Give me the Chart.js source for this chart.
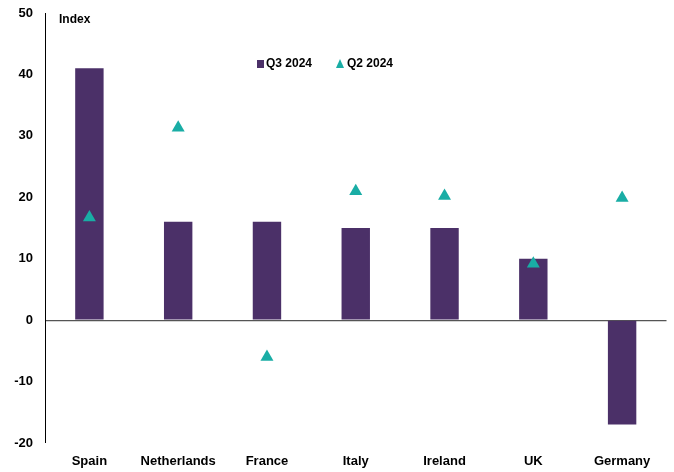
<!DOCTYPE html>
<html>
<head>
<meta charset="utf-8">
<script src="https://cdn.jsdelivr.net/npm/chart.js@4.4.1/dist/chart.umd.min.js"></script>
<style>
html,body{margin:0;padding:0;background:#fff;}
#wrap{width:674px;height:472px;position:relative;}
</style>
</head>
<body>
<div id="wrap"><canvas id="c" width="674" height="472"></canvas></div>
<script>
const categories = ["Spain","Netherlands","France","Italy","Ireland","UK","Germany"];
const q3_2024 = [41, 16, 16, 15, 15, 10, -17];
const q2_2024 = [16.7, 31.3, -6.0, 21.0, 20.2, 9.2, 19.9];
const yTicks = [50, 40, 30, 20, 10, 0, -10, -20];

const BAR = "#4B3068";
const TRI = "#19ADA5";
const FONT = "'Liberation Sans', Arial, sans-serif";

const overlay = {
  id: 'overlay',
  afterDraw(chart) {
    const ctx = chart.ctx;
    const area = chart.chartArea;
    ctx.save();
    ctx.fillStyle = '#000';
    ctx.font = "bold 12px " + FONT;
    ctx.textBaseline = 'middle';
    ctx.textAlign = 'left';
    ctx.fillText("Index", area.left + 14, 20);
    // legend
    const ly = 64;
    ctx.fillStyle = BAR;
    ctx.fillRect(257, ly - 4, 7, 8);
    ctx.fillStyle = '#000';
    ctx.fillText("Q3 2024", 266, ly);
    ctx.fillStyle = TRI;
    ctx.beginPath();
    ctx.moveTo(340, ly - 5);
    ctx.lineTo(344, ly + 4);
    ctx.lineTo(336, ly + 4);
    ctx.closePath();
    ctx.fill();
    ctx.fillStyle = '#000';
    ctx.fillText("Q2 2024", 347, ly);
    ctx.restore();
  }
};

new Chart(document.getElementById('c'), {
  type: 'bar',
  data: {
    labels: categories,
    datasets: [
      {
        type: 'line',
        label: 'Q2 2024',
        data: q2_2024,
        showLine: false,
        pointStyle: 'triangle',
        pointRadius: 7.5,
        pointHoverRadius: 7.5,
        backgroundColor: TRI,
        borderColor: TRI,
        borderWidth: 0,
        order: 0
      },
      {
        type: 'bar',
        label: 'Q3 2024',
        data: q3_2024,
        backgroundColor: BAR,
        borderWidth: 0,
        barPercentage: 0.32,
        categoryPercentage: 1.0,
        order: 1
      }
    ]
  },
  options: {
    responsive: false,
    animation: false,
    devicePixelRatio: 1,
    layout: { padding: { top: 13, right: 6, bottom: 0, left: 0 } },
    plugins: { legend: { display: false }, tooltip: { enabled: false } },
    scales: {
      x: {
        afterFit(scale) { scale.height = 29; },
        grid: { display: false, drawTicks: false },
        border: { display: false },
        ticks: { color: '#000', font: { family: FONT, weight: 'bold', size: 13 }, padding: 11, maxRotation: 0 }
      },
      y: {
        min: -20, max: 50,
        afterFit(scale) { scale.width = 45; scale.paddingTop = 0; scale.paddingBottom = 0; },
        afterBuildTicks(scale) { scale.ticks = yTicks.map(v => ({ value: v })); },
        grid: {
          drawTicks: false,
          color: ctx => (ctx.tick && ctx.tick.value === 0) ? '#555' : 'rgba(0,0,0,0)',
          lineWidth: ctx => (ctx.tick && ctx.tick.value === 0) ? 1.2 : 0
        },
        border: { display: true, color: '#000', width: 1 },
        ticks: { color: '#000', font: { family: FONT, weight: 'bold', size: 13 }, padding: 12 }
      }
    }
  },
  plugins: [overlay]
});
</script>
</body>
</html>
